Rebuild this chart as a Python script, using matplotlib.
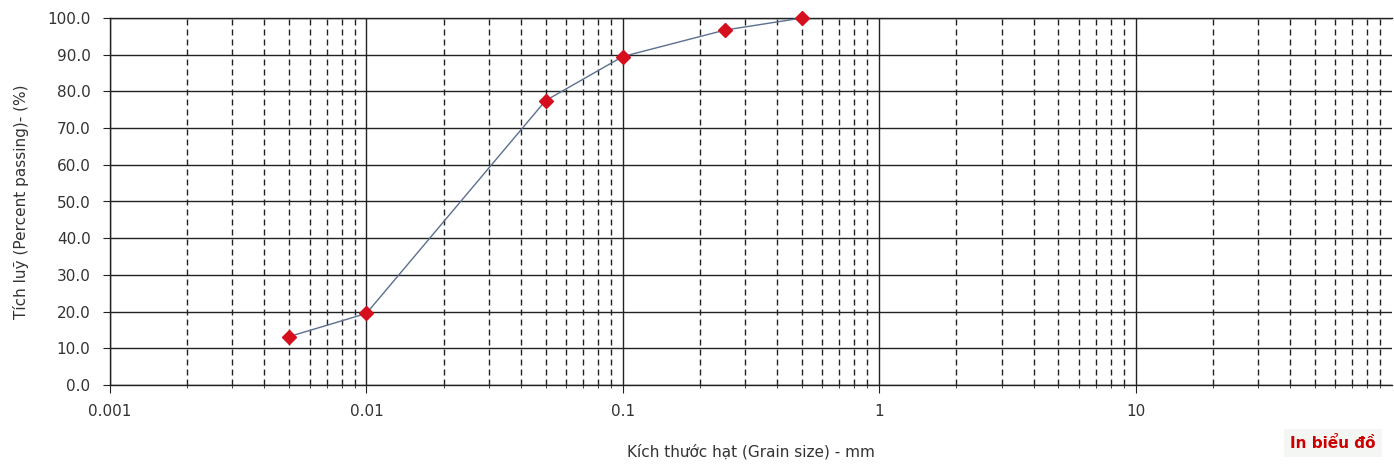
import numpy as np
import matplotlib.pyplot as plt
from matplotlib.ticker import LogLocator, FixedLocator, NullFormatter

# Grain size distribution data
grain_size = [0.005, 0.01, 0.05, 0.1, 0.25, 0.5]
percent_passing = [13.2, 19.5, 77.5, 89.5, 96.7, 100.0]

x_ticks = [0.001, 0.01, 0.1, 1, 10]
x_tick_labels = ['0.001', '0.01', '0.1', '1', '10']
y_ticks = [0, 10, 20, 30, 40, 50, 60, 70, 80, 90, 100]

text_color = '#333333'
plt.rcParams['font.family'] = ['DejaVu Sans']

fig = plt.figure(figsize=(13.94, 4.65), dpi=100)
ax = fig.add_axes([110 / 1394, 80 / 465, 1282 / 1394, 367 / 465])

ax.set_xscale('log')
ax.set_xlim(0.001, 100)
ax.set_ylim(0, 100)

# grid: solid decades, dashed minor
ax.xaxis.set_major_locator(FixedLocator(x_ticks))
ax.set_xticklabels(x_tick_labels)
ax.xaxis.set_minor_locator(LogLocator(base=10, subs=np.arange(2, 10)))
ax.xaxis.set_minor_formatter(NullFormatter())
ax.set_yticks(y_ticks)
ax.set_yticklabels([f'{v:.1f}' for v in y_ticks])

ax.grid(which='major', axis='both', color='#222222', linestyle='-', linewidth=1.0)
ax.grid(which='minor', axis='x', color='#222222', linestyle=(0, (4.3, 2.9)), linewidth=1.0)
ax.set_axisbelow(True)

ax.spines['right'].set_visible(False)
for side in ['left', 'bottom', 'top']:
    ax.spines[side].set_color('#222222')
    ax.spines[side].set_linewidth(1.0)

ax.tick_params(axis='x', which='major', direction='out', length=6, colors='#222222',
               labelcolor=text_color, labelsize=11, pad=8)
ax.tick_params(axis='x', which='minor', direction='out', length=2, colors='#222222')
ax.tick_params(axis='y', direction='out', length=5, colors='#222222',
               labelcolor=text_color, labelsize=11, pad=9)

ax.plot(grain_size, percent_passing, color='#5b6f8f', linewidth=1.0,
        marker='D', markersize=7, markerfacecolor='#d50f1e', markeredgecolor='#d50f1e',
        clip_on=False, zorder=5)

ax.set_xlabel('Kích thước hạt (Grain size) - mm', fontsize=11, color=text_color, labelpad=18)
ax.set_ylabel('Tích luỹ (Percent passing)- (%)', fontsize=11, color=text_color, labelpad=13)

fig.text(1333 / 1394, 1 - 443 / 465, 'In biểu đồ', color='#cc0000', fontsize=11,
         fontweight='bold', ha='center', va='center',
         bbox=dict(boxstyle='square,pad=0.4', facecolor='#f3f6f3', edgecolor='none'))

fig.savefig('out.png', dpi=100)
